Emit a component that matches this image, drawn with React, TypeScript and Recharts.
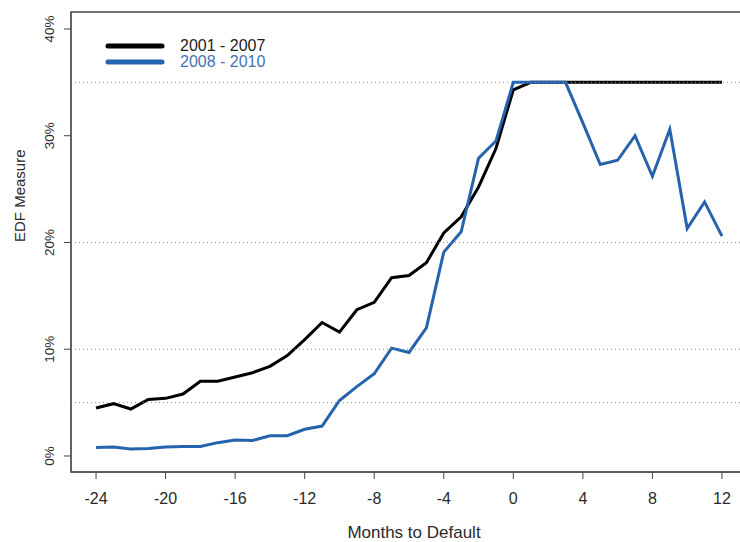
import { Line, LineChart, ReferenceArea, ReferenceLine, XAxis, YAxis } from 'recharts';

// months relative to the default event
const months = [
  -24, -23, -22, -21, -20, -19, -18, -17, -16, -15, -14, -13, -12, -11, -10, -9, -8, -7, -6, -5, -4, -3, -2, -1, 0,
  1, 2, 3, 4, 5, 6, 7, 8, 9, 10, 11, 12,
];

// median EDF (%) per cohort
const edf2001to2007 = [
  4.5, 4.9, 4.4, 5.3, 5.4, 5.8, 7.0, 7.0, 7.4, 7.8, 8.4, 9.4, 10.9, 12.5, 11.6, 13.7, 14.4, 16.7, 16.9, 18.1, 20.9,
  22.4, 25.2, 28.8, 34.3, 35, 35, 35, 35, 35, 35, 35, 35, 35, 35, 35, 35,
];
const edf2008to2010 = [
  0.8, 0.85, 0.65, 0.7, 0.85, 0.9, 0.9, 1.25, 1.5, 1.45, 1.9, 1.9, 2.5, 2.8, 5.2, 6.5, 7.7, 10.1, 9.7, 12.0, 19.1,
  21.0, 27.9, 29.5, 35, 35, 35, 35, 31.2, 27.3, 27.7, 30.0, 26.2, 30.6, 21.3, 23.8, 20.6,
];

const xTicks = [-24, -20, -16, -12, -8, -4, 0, 4, 8, 12];
const yTicks = [0, 10, 20, 30, 40];
const guideLevels = [5, 10, 20, 35];

const X_DOMAIN: [number, number] = [-25.44, 13.44];
const Y_DOMAIN: [number, number] = [-1.5, 41.59];

const BLACK = '#000000';
const BLUE = '#2563ad';
const AXIS = '#444444';
const TEXT = '#2a2a2a';
const FONT = '"Liberation Sans", Arial, sans-serif';

const series = [
  { key: 'early', name: '2001 - 2007', color: BLACK, labelColor: '#222222' },
  { key: 'late', name: '2008 - 2010', color: BLUE, labelColor: '#4572b4' },
];

const data = months.map((m, i) => ({
  month: m,
  early: edf2001to2007[i],
  late: edf2008to2010[i],
}));

const YTick = ({ x, y, payload }: any) => (
  <text
    x={x}
    y={y}
    transform={`rotate(-90 ${x} ${y})`}
    textAnchor="middle"
    fill={TEXT}
    fontSize={13.5}
    fontFamily={FONT}
  >
    {payload.value}%
  </text>
);

// legend sits inside the plot, top-left
const LegendBox = () => (
  <div style={{ position: 'absolute', left: 105, top: 38, fontFamily: FONT, fontSize: 16, lineHeight: '16px' }}>
    {series.map((s) => (
      <div key={s.key} style={{ display: 'flex', alignItems: 'center', height: 16 }}>
        <svg width={60} height={8} style={{ marginRight: 15 }}>
          <line x1={3} y1={4} x2={57} y2={4} stroke={s.color} strokeWidth={5} strokeLinecap="round" />
        </svg>
        <span style={{ color: s.labelColor }}>{s.name}</span>
      </div>
    ))}
  </div>
);

export default function App() {
  return (
    <div
      style={{
        position: 'fixed',
        top: 0,
        left: 0,
        width: 740,
        height: 542,
        overflow: 'hidden',
        background: '#fff',
      }}
    >
      <LineChart width={740} height={542} data={data} margin={{ top: 12, right: -7, bottom: 0, left: 0 }}>
        <XAxis
          dataKey="month"
          type="number"
          domain={X_DOMAIN}
          ticks={xTicks}
          allowDataOverflow
          height={70}
          stroke={AXIS}
          tickSize={7}
          tickMargin={14}
          tick={{ fill: TEXT, fontSize: 16, fontFamily: FONT }}
          label={{
            value: 'Months to Default',
            position: 'insideBottom',
            offset: 4,
            dx: 5,
            fill: TEXT,
            fontSize: 17,
            fontFamily: FONT,
          }}
        />
        <YAxis
          type="number"
          domain={Y_DOMAIN}
          ticks={yTicks}
          allowDataOverflow
          width={71}
          stroke={AXIS}
          tickSize={7}
          tickMargin={10}
          tick={<YTick />}
          label={{
            value: 'EDF Measure',
            angle: -90,
            position: 'insideLeft',
            offset: 20,
            fill: TEXT,
            fontSize: 15,
            fontFamily: FONT,
          }}
        />
        <ReferenceArea
          x1={X_DOMAIN[0]}
          x2={X_DOMAIN[1]}
          y1={Y_DOMAIN[0]}
          y2={Y_DOMAIN[1]}
          fill="none"
          stroke={AXIS}
          strokeWidth={1.3}
          ifOverflow="visible"
        />
        {series.map((s) => (
          <Line
            key={s.key}
            dataKey={s.key}
            name={s.name}
            stroke={s.color}
            strokeWidth={3}
            dot={false}
            type="linear"
            isAnimationActive={false}
          />
        ))}
        {guideLevels.map((v) => (
          <ReferenceLine key={v} y={v} stroke="#888" strokeDasharray="1 3" strokeWidth={1} />
        ))}
      </LineChart>
      <LegendBox />
    </div>
  );
}
